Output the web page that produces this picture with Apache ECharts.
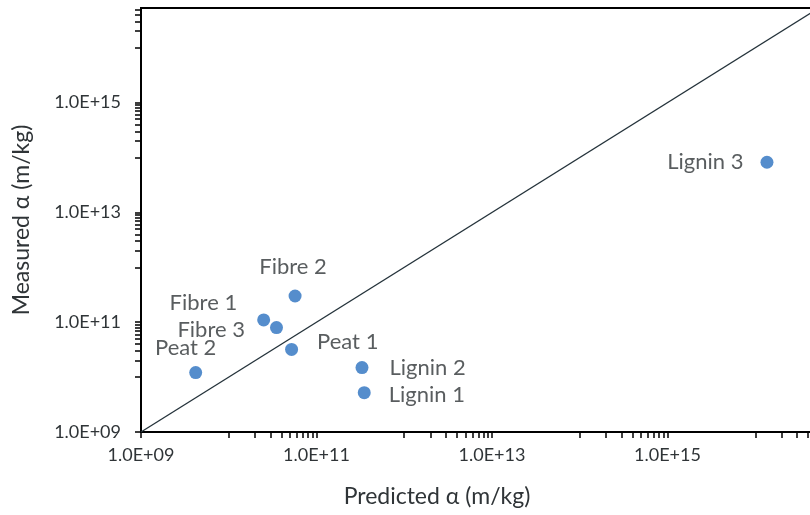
<!DOCTYPE html>
<html>
<head>
<meta charset="utf-8">
<script src="https://cdn.jsdelivr.net/npm/echarts@6/dist/echarts.min.js"></script>
<style>
html,body{margin:0;padding:0;background:#fff;overflow:hidden;}
#chart{width:810px;height:515px;}
</style>
</head>
<body>
<div id="chart"></div>
<script>
// ---- data ----
const categories = ['Peat 1', 'Peat 2', 'Fibre 1', 'Fibre 2', 'Fibre 3', 'Lignin 1', 'Lignin 2', 'Lignin 3'];
const predicted  = [5.2e10, 4.2e9, 2.5e10, 5.7e10, 3.5e10, 3.5e11, 3.3e11, 1.36e16];
const measured   = [3.2e10, 1.21e10, 1.1e11, 3.0e11, 8.0e10, 5.2e9, 1.49e10, 8.2e13];
const identityLine = [[1e9, 1e9], [1e17, 1e17]];
const tickLabelValues = [1e9, 1e11, 1e13, 1e15];
const xTitle = 'Predicted α (m/kg)';
const yTitle = 'Measured α (m/kg)';

// ---- axis tick positions (Excel log base-100 style: major every 2 decades, minor k*10^(n+1)) ----
function buildTicks(maxVal) {
  const t = [];
  for (let d = 9; d <= 17; d += 2) {
    const base = Math.pow(10, d);
    if (base <= maxVal) t.push(base);
    for (let k = 1; k <= 9; k++) {
      const v = k * base * 10;
      if (v <= maxVal) t.push(v);
    }
  }
  return t;
}
const xMax = 1e17, yMax = 5.3e16;
const xTicks = buildTicks(xMax);
const yTicks = buildTicks(yMax);

function sci(v) {
  const e = Math.round(Math.log10(v));
  const m = v / Math.pow(10, e);
  return m.toFixed(1) + 'E+' + String(e).padStart(2, '0');
}

// ---- label placement (styling, separate from data) ----
const labelPlacement = {
  'Peat 2':   {position: 'top',   distance: 7,  offset: [-10, 0]},
  'Fibre 2':  {position: 'top',   distance: 12, offset: [-2, 0]},
  'Fibre 1':  {position: 'left',  distance: 20, offset: [0, -17]},
  'Fibre 3':  {position: 'left',  distance: 25, offset: [0, 2]},
  'Peat 1':   {position: 'right', distance: 19, offset: [0, -7]},
  'Lignin 2': {position: 'right', distance: 21, offset: [0, 0]},
  'Lignin 1': {position: 'right', distance: 18, offset: [0, 2]},
  'Lignin 3': {position: 'left',  distance: 17, offset: [0, 0]}
};

const textColor = '#2f3437';
const font = 'Lato';

const scatterData = categories.map((name, i) => {
  const p = labelPlacement[name];
  return {
    name: name,
    value: [predicted[i], measured[i]],
    label: {show: true, position: p.position, distance: p.distance, offset: p.offset}
  };
});

const chart = echarts.init(document.getElementById('chart'), null, {renderer: 'canvas'});
chart.setOption({
  animation: false,
  backgroundColor: '#fff',
  grid: {
    left: 141, top: 8, bottom: 83, width: 702,
    containLabel: false, outerBoundsMode: 'none',
    show: true, borderColor: '#000', borderWidth: 2, backgroundColor: 'transparent'
  },
  xAxis: {
    type: 'log', logBase: 10, min: 1e9, max: xMax,
    name: xTitle, nameLocation: 'middle', nameGap: 53,
    nameTextStyle: {fontFamily: font, fontSize: 23, color: textColor, padding: [0, 110, 0, 0]},
    axisLine: {show: true, lineStyle: {color: '#000', width: 2}},
    axisTick: {show: true, inside: false, length: 6, lineStyle: {color: '#000', width: 1.5}, customValues: xTicks},
    axisLabel: {show: true, margin: 14, fontFamily: font, fontSize: 18, color: textColor,
      customValues: tickLabelValues, formatter: v => sci(v)},
    splitLine: {show: false}, minorTick: {show: false}, minorSplitLine: {show: false}
  },
  yAxis: {
    type: 'log', logBase: 10, min: 1e9, max: yMax,
    name: yTitle, nameLocation: 'middle', nameGap: 108, nameRotate: 90,
    nameTextStyle: {fontFamily: font, fontSize: 23, color: textColor},
    axisLine: {show: true, lineStyle: {color: '#000', width: 2}},
    axisTick: {show: true, inside: false, length: 6, lineStyle: {color: '#000', width: 1.5}, customValues: yTicks},
    axisLabel: {show: true, margin: 20, fontFamily: font, fontSize: 18, color: textColor,
      customValues: tickLabelValues, formatter: v => sci(v)},
    splitLine: {show: false}, minorTick: {show: false}, minorSplitLine: {show: false}
  },
  series: [
    {
      type: 'line',
      data: identityLine,
      symbol: 'none',
      clip: true,
      lineStyle: {color: '#24323a', width: 1.3},
      silent: true,
      z: 1
    },
    {
      type: 'scatter',
      data: scatterData,
      symbol: 'circle',
      symbolSize: 13,
      itemStyle: {color: '#2a70bf'},
      label: {show: true, formatter: p => p.name, fontFamily: font, fontSize: 22, color: textColor},
      z: 3
    }
  ]
});
</script>
</body>
</html>
